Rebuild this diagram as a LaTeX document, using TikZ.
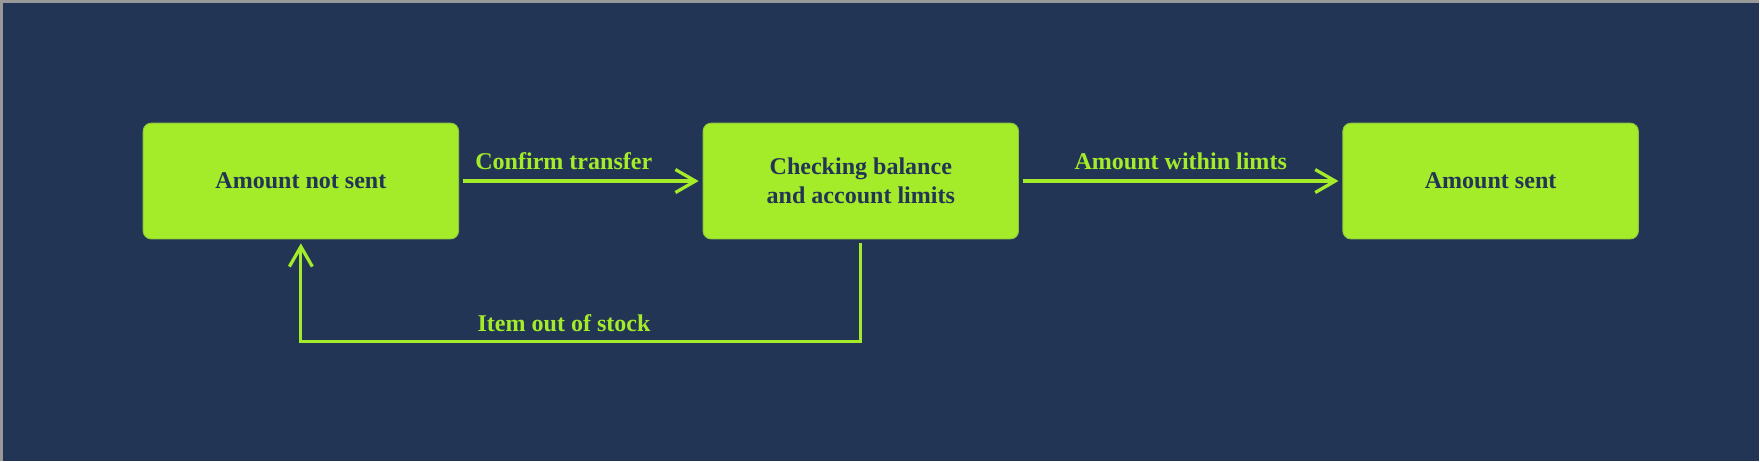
\documentclass[tikz,border=0pt]{standalone}
\usepackage{fontspec}
\setmainfont{Liberation Serif}
\usetikzlibrary{positioning,calc,arrows.meta}

\definecolor{navy}{HTML}{223554}
\definecolor{lime}{HTML}{A4EB2A}
\definecolor{limeedge}{HTML}{8CC63F}

\tikzset{
    state/.style={
        draw=limeedge, fill=lime, line width=0.5pt,
        rounded corners=0.16cm,
        minimum width=6.32cm, minimum height=2.32cm,
        text=navy, align=center,
        font=\fontsize{13.7}{16.7}\selectfont\bfseries
    },
    flow/.style={
        draw=lime, line width=0.065cm,
        -{Straight Barb[length=0.4cm,width=0.46cm]},
        shorten <=0.08cm, shorten >=0.08cm
    },
    lbl/.style={
        text=lime, anchor=base, inner sep=0pt,
        font=\fontsize{13.7}{16.7}\selectfont\bfseries
    }
}

\begin{document}
\begin{tikzpicture}[x=0.02cm, y=-0.02cm]
            % background
            \fill[navy] (0, 0) rectangle (1760, 460);
            \draw[gray!80, line width=1.5pt] (0, 460) -- (0, 0) -- (1760, 0);
            \useasboundingbox (0, 0) rectangle (1760, 460);

            % states
            \node[state] (notsent) at (300, 180) {Amount not sent};
            \node[state, right=4.88cm of notsent] (checking) {Checking balance\\and account limits};
            \node[state, minimum width=5.92cm, right=6.48cm of checking] (sent) {Amount sent};

            % transitions
            \draw[flow] (notsent) -- node[lbl, pos=0.43, yshift=0.23cm] (confirmlbl) {Confirm transfer} (checking);
            \draw[flow] (checking) -- node[lbl, pos=0.5, yshift=0.23cm] (withinlbl) {Amount within limts} (sent);

            % back to start
            \coordinate (loopR) at ($ (checking.south) + (0, 102) $);
            \coordinate (loopL) at (notsent.south |- loopR);
            \draw[flow] (checking.south) -- (loopR) -- (loopL) -- (notsent.south);
            \node[lbl] (stocklbl) at ($ (loopR)!0.53!(loopL) + (0, -10) $) {Item out of stock};
\end{tikzpicture}
\end{document}
